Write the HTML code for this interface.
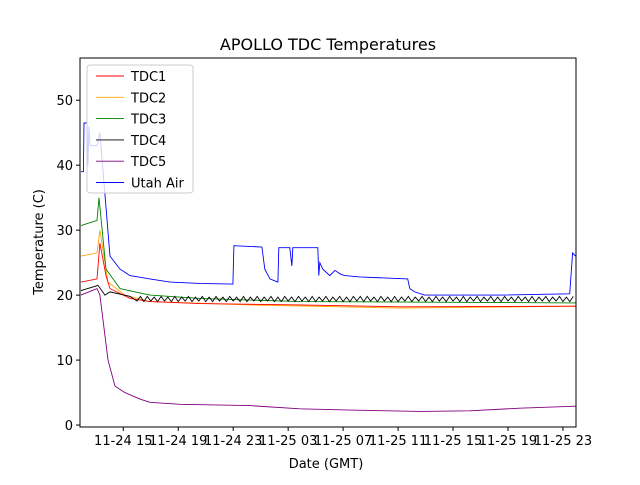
<!DOCTYPE html>
<html><head><meta charset="utf-8"><style>
body{margin:0;background:#fff;}
svg{font-family:"DejaVu Sans","Liberation Sans",sans-serif;}
</style></head><body>
<svg id="c" width="640" height="480"></svg>
<script>
const xTickHours=[15,19,23,27,31,35,39,43,47];
const xTickLabels=["11-24 15","11-24 19","11-24 23","11-25 03","11-25 07","11-25 11","11-25 15","11-25 19","11-25 23"];
const yTicks=[0,10,20,30,40,50];
const seriesNames=["TDC1","TDC2","TDC3","TDC4","TDC5","Utah Air"];
const seriesColors=["red","orange","green","black","purple","blue"];
const tdc1T=[11.92,13.09,13.3,13.74,14.03,15.49,16.94,20.58,27.85,35.12,47.92];
const tdc1V=[22,22.5,28,23,21,19.5,19,18.7,18.5,18.2,18.3];
const tdc2T=[11.92,13.09,13.3,13.89,15.12,16.94,24.21,35.12,47.92];
const tdc2V=[26,26.5,30,22,20,19,18.5,18,18.3];
const tdc3T=[11.92,13.09,13.23,13.74,14.76,16.94,20.58,27.85,47.92];
const tdc3V=[30.7,31.5,35,24,21,20,19.5,19,18.8];
const tdc4T=[11.92,13.16,13.67,14.03,15.49];
const tdc4V=[20.7,21.5,20,20.5,19.8];
const tdc4Saw=[19.1,19.8,19.0,19.8,19.1,19.7,19.0,19.8,19.1,19.7,19.0,19.8,19.0,19.7,19.1,19.8,19.0,19.7,19.1,19.8,19.0,19.7,19.0,19.8,19.1,19.7,19.0,19.8,19.1,19.7,19.0,19.8,19.0,19.7,19.1,19.8,19.0,19.7,19.1,19.8,19.0,19.7,19.0,19.8,19.1,19.7,19.0,19.8,19.1,19.7,19.0,19.8,19.0,19.7,19.1,19.8,19.0,19.7,19.1,19.8,19.0,19.7,19.0,19.8,
19.1,19.8,19.0,19.8,19.1,19.7,19.0,19.8,19.1,19.7,19.0,19.8,19.0,19.7,19.1,19.8,19.0,19.7,19.1,19.8,19.0,19.7,19.0,19.8,19.1,19.7,19.0,19.8,19.1,19.7,19.0,19.8,19.0,19.7,19.1,19.8,19.0,19.7,19.1,19.8,19.0,19.7,19.0,19.8,19.1,19.7,19.0,19.8,19.1,19.7,19.0,19.8,19.0,19.7,19.1,19.8,19.0,19.7,19.1,19.8,19.0,19.7,19.0,19.8];
const tdc5T=[11.92,13.09,13.3,13.89,14.4,15.12,16.21,16.94,19.12,24.21,27.85,31.49,36.58,40.21,43.85,47.92];
const tdc5V=[20,21,20,10,6,5,4,3.5,3.2,3,2.5,2.3,2.1,2.2,2.6,2.9];
const airT=[11.92,12.1,12.14,12.36,12.43,12.5,12.58,13.09,13.3,14.03,14.76,15.49,16.94,18.4,20.58,22.98,23.05,25.09,25.3,25.67,26.25,26.32,27.12,27.27,27.34,29.16,29.23,29.3,29.52,30.03,30.4,30.83,31.12,32.21,34.4,35.7,35.85,36.21,36.94,42.4,47.49,47.7,47.92];
const airV=[39,39,46.5,46.5,40,46,43,43,45,26,24,23,22.5,22,21.8,21.7,27.6,27.4,24,22.5,22,27.3,27.3,24.5,27.3,27.3,23,25,24,23,23.8,23.2,23,22.8,22.6,22.5,21,20.5,20,20,20.2,26.5,26];
const NS="http://www.w3.org/2000/svg";
const svg=document.getElementById('c');
const L=80,R=576,T=58,B=427,x0=11.85,x1=47.95,y0=-0.3,y1=56.5;
const sx=h=>L+(h-x0)/(x1-x0)*(R-L);
const sy=v=>B-(v-y0)/(y1-y0)*(B-T);
function mk(tag,attrs,parent){const e=document.createElementNS(NS,tag);for(const k in attrs)e.setAttribute(k,attrs[k]);(parent||svg).appendChild(e);return e;}
const clip=mk('clipPath',{id:'pc'});mk('rect',{x:L,y:T,width:R-L,height:B-T},clip);
const plot=mk('g',{'clip-path':'url(#pc)'});


function line(ts,vs,color,name){
  const p=mk('polyline',{points:ts.map((t,i)=>sx(t).toFixed(1)+','+sy(vs[i]).toFixed(1)).join(' '),fill:'none',stroke:color,'stroke-width':0.9},plot);
  
  
}
const t4=tdc4T.slice(),v4=tdc4V.slice();
tdc4Saw.forEach((v,i)=>{const h=16+i*0.25;if(h<=48){t4.push(h);v4.push(v);}});
line(tdc5T,tdc5V,seriesColors[4],'tdc5-line');
line(tdc2T,tdc2V,seriesColors[1],'tdc2-line');
line(tdc1T,tdc1V,seriesColors[0],'tdc1-line');
line(tdc3T,tdc3V,seriesColors[2],'tdc3-line');
line(t4,v4,seriesColors[3],'tdc4-line');
line(airT,airV,seriesColors[5],'utah-air-line');
const frame=mk('rect',{x:L,y:T,width:R-L,height:B-T,fill:'none',stroke:'#000','stroke-width':1});


xTickHours.forEach((h,i)=>{
  const x=sx(h);
  mk('line',{x1:x,x2:x,y1:B,y2:B+4,stroke:'#000'});
  const t=mk('text',{x:x,y:B+18,'text-anchor':'middle','font-size':13});t.textContent=xTickLabels[i];
  
  
});
yTicks.forEach(v=>{
  const y=sy(v);
  mk('line',{x1:L-4,x2:L,y1:y,y2:y,stroke:'#000'});
  const t=mk('text',{x:L-7,y:y+5,'text-anchor':'end','font-size':13});t.textContent=v;
  
  
});
const title=mk('text',{x:328,y:50,'text-anchor':'middle','font-size':16});title.textContent='APOLLO TDC Temperatures';


const xl=mk('text',{x:326,y:468,'text-anchor':'middle','font-size':13});xl.textContent='Date (GMT)';


const yl=mk('text',{x:43,y:242,'text-anchor':'middle','font-size':13,transform:'rotate(-90 43 242)'});yl.textContent='Temperature (C)';


const lg=mk('g',{});


mk('rect',{x:87,y:65,width:106,height:128,rx:3,fill:'#fff','fill-opacity':0.8,stroke:'#ccc'},lg);
seriesNames.forEach((n,i)=>{
  const y=76+i*21.3;
  mk('line',{x1:96,x2:124,y1:y,y2:y,stroke:seriesColors[i],'stroke-width':0.9},lg);
  const t=mk('text',{x:131,y:y+5,'font-size':13},lg);t.textContent=n;
  
  
});
</script>
</body></html>
